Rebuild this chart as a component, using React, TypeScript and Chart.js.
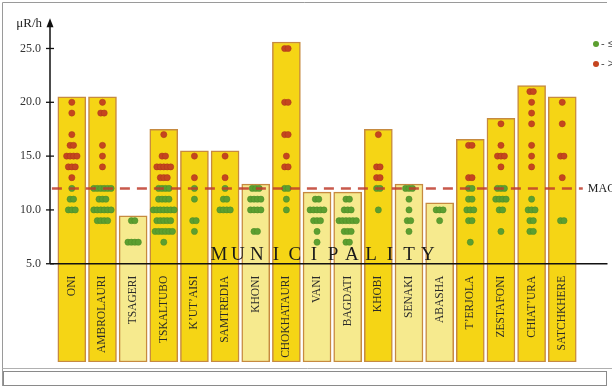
import React, { useEffect, useRef } from "react";
import { Chart, registerables } from "chart.js";

Chart.register(...registerables);

// ---------- data ----------
const municipalities = [
  "ONI", "AMBROLAURI", "TSAGERI", "TSKALTUBO", "K’UT’AISI", "SAMTREDIA", "KHONI",
  "CHOKHATAURI", "VANI", "BAGDATI", "KHOBI", "SENAKI", "ABASHA", "T’ERJOLA",
  "ZESTAFONI", "CHIAT’URA", "SATCHKHERE",
];

// maximum measured level per municipality (bar top), μR/h
const maxLevels = [20.5, 20.5, 9.45, 17.5, 15.5, 15.5, 12.4, 25.6, 11.65, 11.65, 17.5, 12.4, 10.65, 16.55, 18.5, 21.55, 20.5];

// individual measurements: [value, number of points at that value]
const oniPts = [[20, 1], [19, 1], [17, 1], [16, 2], [15, 4], [14, 3], [13, 1], [12, 1], [11, 2], [10, 3]];
const ambrolauriPts = [[20, 1], [19, 2], [16, 1], [15, 1], [14, 1], [12, 6], [11, 3], [10, 6], [9, 4]];
const tsageriPts = [[9, 2], [7, 4]];
const tskaltuboPts = [[17, 1], [15, 2], [14, 5], [13, 3], [12, 4], [11, 4], [10, 7], [9, 5], [8, 6], [7, 1]];
const kutaisiPts = [[15, 1], [13, 1], [12, 1], [11, 1], [9, 2], [8, 1]];
const samtrediaPts = [[15, 1], [13, 1], [12, 1], [11, 2], [10, 4]];
const khoniPts = [[12, 3], [11, 4], [10, 4], [8, 2]];
const chokhatauriPts = [[25, 2], [20, 2], [17, 2], [15, 1], [14, 2], [12, 2], [11, 1], [10, 1]];
const vaniPts = [[11, 2], [10, 5], [9, 3], [8, 1], [7, 1]];
const bagdatiPts = [[11, 2], [10, 3], [9, 6], [8, 3], [7, 2]];
const khobiPts = [[17, 1], [14, 2], [13, 2], [12, 2], [10, 1]];
const senakiPts = [[12, 3], [11, 1], [10, 1], [9, 2], [8, 1]];
const abashaPts = [[10, 3], [9, 1]];
const terjolaPts = [[16, 2], [13, 2], [12, 2], [11, 2], [10, 3], [9, 2], [7, 1]];
const zestafoniPts = [[18, 1], [16, 1], [15, 3], [14, 1], [12, 3], [11, 4], [10, 2], [8, 1]];
const chiaturaPts = [[21, 2], [20, 1], [19, 1], [18, 1], [16, 1], [15, 1], [14, 1], [11, 1], [10, 3], [9, 2], [8, 2]];
const satchkherePts = [[20, 1], [18, 1], [15, 2], [13, 1], [9, 2]];

const measurements = [
  oniPts, ambrolauriPts, tsageriPts, tskaltuboPts, kutaisiPts, samtrediaPts, khoniPts,
  chokhatauriPts, vaniPts, bagdatiPts, khobiPts, senakiPts, abashaPts, terjolaPts,
  zestafoniPts, chiaturaPts, satchkherePts,
];

const MAC = 12;
const yTicks = [5, 10, 15, 20, 25];
const axisTitle = "μR/h";
const xAxisTitle = "MUNICIPALITY";
const legendSafe = "- ≤ MAC";
const legendOver = "- > MAC";
const macLabel = "MAC";

// ---------- scale ranges ----------
const Y_MIN = -4.13;
const Y_MAX = 28.0;
const X_MIN = -0.712;
const X_MAX = 17.476;
const MAC_FROM = -0.65;
const MAC_TO = 16.67;
const DOT_STEP = 0.113; // horizontal spacing of coincident points (x units)

const BRIGHT = "#f5d515";
const PALE = "#f6ea8e";
const BAR_BORDER = "#c68a40";
const RED = "#c5451f";
const GREEN = "#5c9f30";

function buildPoints(over: boolean) {
  const pts: { x: number; y: number }[] = [];
  measurements.forEach((rows, i) => {
    rows.forEach(([v, n]) => {
      if ((v > MAC) !== over) return;
      for (let k = 0; k < n; k++) {
        pts.push({ x: i + (k - (n - 1) / 2) * DOT_STEP, y: v });
      }
    });
  });
  return pts;
}

const overlay = {
  id: "overlay",
  afterDatasetsDraw(chart: any) {
    const { ctx, chartArea, scales } = chart;
    const xs = scales.x;
    const ys = scales.y;
    const y5 = ys.getPixelForValue(yTicks[0]);
    const ax = chartArea.left;
    ctx.save();

    // x axis line
    ctx.strokeStyle = "#111";
    ctx.lineWidth = 1.5;
    ctx.beginPath();
    ctx.moveTo(ax, y5);
    ctx.lineTo(chartArea.right, y5);
    ctx.stroke();

    // y axis line with arrow
    const tipY = ys.getPixelForValue(27.8);
    ctx.beginPath();
    ctx.moveTo(ax, y5);
    ctx.lineTo(ax, tipY + 6);
    ctx.stroke();
    ctx.fillStyle = "#111";
    ctx.beginPath();
    ctx.moveTo(ax, tipY);
    ctx.lineTo(ax - 3.5, tipY + 9);
    ctx.lineTo(ax + 3.5, tipY + 9);
    ctx.closePath();
    ctx.fill();

    // tick marks crossing the axis
    ctx.lineWidth = 1.3;
    yTicks.forEach((t) => {
      const py = ys.getPixelForValue(t);
      ctx.beginPath();
      ctx.moveTo(ax - 4, py);
      ctx.lineTo(ax + 4, py);
      ctx.stroke();
    });

    // unit label
    ctx.fillStyle = "#222";
    ctx.font = "13px 'Liberation Serif'";
    ctx.textAlign = "right";
    ctx.textBaseline = "alphabetic";
    ctx.fillText(axisTitle, ax - 8, tipY + 9);

    // bar labels (rotated)
    ctx.font = "11.5px 'Liberation Serif'";
    ctx.fillStyle = "#2a2a2a";
    municipalities.forEach((m, i) => {
      const px = xs.getPixelForValue(i);
      ctx.save();
      ctx.translate(px, y5 + 12);
      ctx.rotate(-Math.PI / 2);
      ctx.textAlign = "right";
      ctx.textBaseline = "middle";
      ctx.fillText(m, 0, 0);
      ctx.restore();
    });

    // spaced axis title
    ctx.font = "19px 'Liberation Serif'";
    ctx.fillStyle = "#1a1a1a";
    ctx.textAlign = "center";
    ctx.textBaseline = "alphabetic";
    const letters = xAxisTitle.split("");
    const startX = xs.getPixelForValue(4.8);
    const step = 19;
    letters.forEach((ch, k) => ctx.fillText(ch, startX + k * step, y5 - 4));

    // MAC label
    ctx.font = "12px 'Liberation Serif'";
    ctx.textAlign = "left";
    ctx.textBaseline = "middle";
    ctx.fillStyle = "#222";
    ctx.fillText(macLabel, xs.getPixelForValue(MAC_TO) + 5, ys.getPixelForValue(MAC));

    // legend
    const lx = 596;
    const items = [
      { c: GREEN, t: legendSafe, y: 44 },
      { c: RED, t: legendOver, y: 64 },
    ];
    ctx.font = "11px 'Liberation Sans'";
    items.forEach((it) => {
      ctx.fillStyle = it.c;
      ctx.beginPath();
      ctx.arc(lx, it.y, 3, 0, Math.PI * 2);
      ctx.fill();
      ctx.fillStyle = "#444";
      ctx.fillText(it.t, lx + 5, it.y);
    });

    ctx.restore();
  },
  afterDraw(chart: any) {
    const { ctx, width, height } = chart;
    ctx.save();
    ctx.strokeStyle = "#9a9a9a";
    ctx.lineWidth = 1;
    ctx.beginPath();
    ctx.moveTo(2.5, 2.5);
    ctx.lineTo(607, 2.5);
    ctx.moveTo(2.5, 2.5);
    ctx.lineTo(2.5, height - 2);
    ctx.stroke();
    ctx.strokeStyle = "#b0b0b0";
    ctx.beginPath();
    ctx.moveTo(2.5, 368.5);
    ctx.lineTo(width, 368.5);
    ctx.stroke();
    ctx.strokeStyle = "#8a8a8a";
    ctx.strokeRect(3.5, 371.5, 603, 14);
    ctx.restore();
  },
};

export default function App() {
  const ref = useRef<HTMLCanvasElement | null>(null);

  useEffect(() => {
    document.body.style.margin = "0";
    if (!ref.current) return;
    const chart = new Chart(ref.current, {
      type: "bar",
      data: {
        datasets: [
          {
            type: "line",
            data: [
              { x: MAC_FROM, y: MAC },
              { x: MAC_TO, y: MAC },
            ],
            borderColor: "rgba(190,60,45,0.85)",
            borderWidth: 2.5,
            borderDash: [10, 7],
            pointRadius: 0,
            fill: false,
            order: 1,
          } as any,
          {
            type: "scatter",
            data: buildPoints(true),
            backgroundColor: RED,
            borderColor: "#a8391a",
            borderWidth: 0.5,
            pointRadius: 3.1,
            order: 2,
          } as any,
          {
            type: "scatter",
            data: buildPoints(false),
            backgroundColor: GREEN,
            borderColor: "#4d8a27",
            borderWidth: 0.5,
            pointRadius: 3.1,
            order: 2,
          } as any,
          {
            type: "bar",
            data: maxLevels.map((t, i) => ({ x: i, y: [Y_MIN, t] })),
            backgroundColor: maxLevels.map((t) => (t < 13 ? PALE : BRIGHT)),
            borderColor: BAR_BORDER,
            borderWidth: 1.5,
            borderSkipped: false,
            barThickness: 28,
            order: 3,
          } as any,
        ],
      },
      options: {
        responsive: false,
        animation: false,
        events: [],
        layout: { padding: { top: 10, right: 0, bottom: 26, left: 0 } },
        plugins: { legend: { display: false }, tooltip: { enabled: false } },
        scales: {
          x: {
            type: "linear",
            min: X_MIN,
            max: X_MAX,
            offset: false,
            display: false,
          },
          y: {
            type: "linear",
            min: Y_MIN,
            max: Y_MAX,
            afterFit: (s: any) => {
              s.width = 50;
            },
            afterBuildTicks: (s: any) => {
              s.ticks = yTicks.map((v) => ({ value: v }));
            },
            ticks: {
              callback: (v: any) => Number(v).toFixed(1),
              font: { family: "'Liberation Sans Narrow'", size: 12 },
              color: "#333",
              padding: 9,
            },
            grid: { display: false, drawTicks: false },
            border: { display: false },
          },
        },
      } as any,
      plugins: [overlay],
    });
    return () => chart.destroy();
  }, []);

  return (
    <div style={{ width: 612, height: 388 }}>
      <canvas ref={ref} width={612} height={388} style={{ display: "block" }} />
    </div>
  );
}
